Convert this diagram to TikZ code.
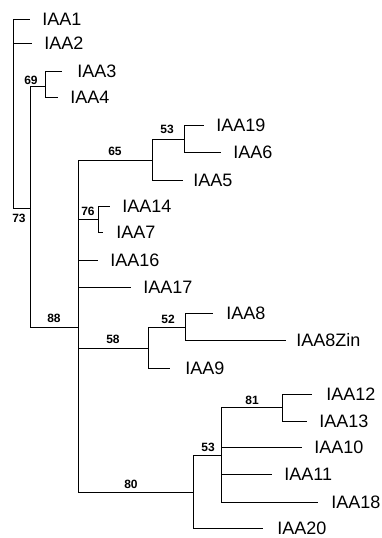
\documentclass[tikz,border=0pt]{standalone}
\usepackage{fontspec}
\setmainfont{Liberation Sans}
\usepackage{tikz}

\begin{document}
\begin{tikzpicture}[x=1pt, y=-1pt, line width=0.9pt,
  leaf/.style={anchor=west, inner xsep=12pt, inner ysep=1pt,
               font=\fontsize{18}{20}\selectfont},
  boot/.style={inner sep=0pt, font=\fontsize{12}{13}\selectfont\bfseries}]
\useasboundingbox (0,0) rectangle (381,538);
\coordinate (root) at (13,208);
\coordinate (n73) at (30,208);
\coordinate (n69) at (45,86);
\coordinate (n88) at (78,327);
\coordinate (n65) at (152,160);
\coordinate (n53a) at (184,139);
\coordinate (n76) at (98,219);
\coordinate (n58) at (148,348);
\coordinate (n52) at (185,327);
\coordinate (n80) at (193,492);
\coordinate (n53b) at (221,455);
\coordinate (n81) at (282,407);
\node[leaf] (iaa1) at (30,19) {IAA1};
\node[leaf] (iaa2) at (32,43) {IAA2};
\node[leaf, inner xsep=15pt] (iaa3) at (62,71) {IAA3};
\node[leaf] (iaa4) at (58,97) {IAA4};
\node[leaf] (iaa19) at (204,125) {IAA19};
\node[leaf] (iaa6) at (221,152) {IAA6};
\node[leaf, inner xsep=10pt] (iaa5) at (183,180) {IAA5};
\node[leaf] (iaa14) at (110,206) {IAA14};
\node[leaf, inner xsep=13pt] (iaa7) at (103,232) {IAA7};
\node[leaf] (iaa16) at (98,260) {IAA16};
\node[leaf] (iaa17) at (131,287) {IAA17};
\node[leaf, inner xsep=13pt] (iaa8) at (213,313) {IAA8};
\node[leaf, inner xsep=10pt] (iaa8zin) at (286,340) {IAA8Zin};
\node[leaf, inner xsep=15pt] (iaa9) at (170,368) {IAA9};
\node[leaf, inner xsep=14pt] (iaa12) at (312,394) {IAA12};
\node[leaf] (iaa13) at (307,421) {IAA13};
\node[leaf] (iaa10) at (302,447) {IAA10};
\node[leaf] (iaa11) at (272,474) {IAA11};
\node[leaf, inner xsep=13pt] (iaa18) at (318,502) {IAA18};
\node[leaf, inner xsep=14pt] (iaa20) at (263,528) {IAA20};
\node[boot] (b69) at (31,80) {69};
\node[boot] (b73) at (19,218) {73};
\node[boot] (b65) at (115,151) {65};
\node[boot] (b53a) at (167,129) {53};
\node[boot] (b76) at (88,211) {76};
\node[boot] (b88) at (54,318) {88};
\node[boot] (b58) at (113,339) {58};
\node[boot] (b52) at (168,319) {52};
\node[boot] (b81) at (252,400) {81};
\node[boot] (b53b) at (208,447) {53};
\node[boot] (b80) at (131,484) {80};
\draw (root) |- (iaa1.west);
\draw (root) |- (iaa2.west);
\draw (root) -- (n73);
\draw (n73) |- (n69);
\draw (n73) |- (n88);
\draw (n69) |- (iaa3.west);
\draw (n69) |- (iaa4.west);
\draw (n88) |- (n65);
\draw (n88) |- (n76);
\draw (n88) |- (iaa16.west);
\draw (n88) |- (iaa17.west);
\draw (n88) |- (n58);
\draw (n88) |- (n80);
\draw (n65) |- (n53a);
\draw (n65) |- (iaa5.west);
\draw (n53a) |- (iaa19.west);
\draw (n53a) |- (iaa6.west);
\draw (n76) |- (iaa14.west);
\draw (n76) |- (iaa7.west);
\draw (n58) |- (n52);
\draw (n58) |- (iaa9.west);
\draw (n52) |- (iaa8.west);
\draw (n52) |- (iaa8zin.west);
\draw (n80) |- (n53b);
\draw (n80) |- (iaa20.west);
\draw (n53b) |- (n81);
\draw (n53b) |- (iaa10.west);
\draw (n53b) |- (iaa11.west);
\draw (n53b) |- (iaa18.west);
\draw (n81) |- (iaa12.west);
\draw (n81) |- (iaa13.west);
\end{tikzpicture}
\end{document}
